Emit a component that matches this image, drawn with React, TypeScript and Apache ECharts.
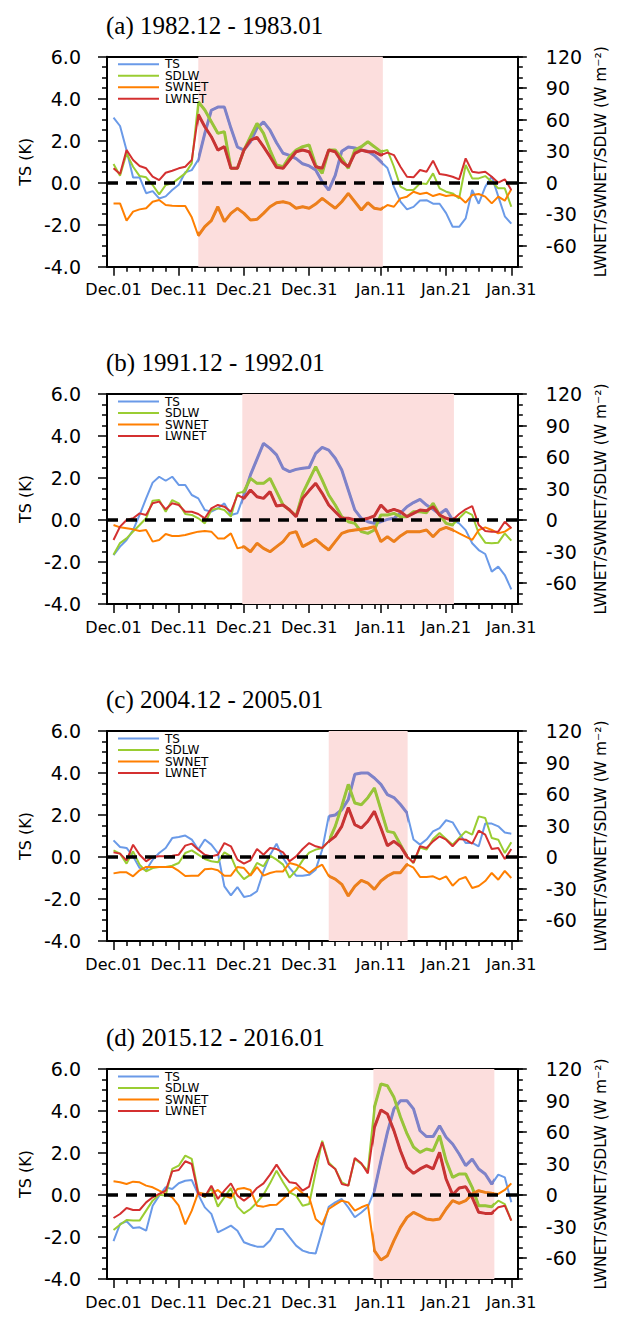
import React, { useEffect, useRef } from "react";
import * as echarts from "echarts";

const dayTicks = [0, 10, 20, 30, 41, 51, 61];
const dayLabels = ["Dec.01", "Dec.11", "Dec.21", "Dec.31", "Jan.11", "Jan.21", "Jan.31"];
const minorDays = [2, 4, 6, 8, 12, 14, 16, 18, 22, 24, 26, 28, 32, 34, 36, 38, 40, 42, 44, 46, 48, 50, 52, 54, 56, 58, 60];
const fluxTicks = [-60, -30, 0, 30, 60, 90, 120];
const seriesNames = ["TS", "SDLW", "SWNET", "LWNET"];
const seriesColors = ["#6a9ae8", "#9acd32", "#ff7f00", "#d43030"];
const shadedColors = ["#7f82c8", "#98c43a", "#ec7f1c", "#c83434"];
const panelTitles = ["(a) 1982.12 - 1983.01", "(b) 1991.12 - 1992.01", "(c) 2004.12 - 2005.01", "(d) 2015.12 - 2016.01"];
const shades = [[13, 41.3], [19.75, 52.2], [33, 45.1], [39.85, 58.4]];

// Panel (a)
const tsA = [3.1, 2.7, 1.55, 0.25, 0.25, -0.5, -0.4, -0.75, -0.65, -0.35, -0.1, 0.5, 0.6, 1.1, 2.35, 3.45, 3.6, 3.6, 2.6, 1.7, 1.55, 1.95, 2.6, 2.9, 2.5, 1.9, 1.4, 1.3, 1.15, 0.9, 0.8, 0.6, 0.05, -0.35, 0.35, 1.5, 1.7, 1.65, 1.55, 1.5, 1.3, 1.0, 0.7, -0.2, -0.9, -1.27, -1.15, -0.85, -0.83, -1.0, -1.0, -1.45, -2.1, -2.1, -1.7, -0.35, -1.0, -0.2, 0.3, -0.65, -1.6, -1.95];
const sdlwA = [17.8, 6.7, 27.9, 15.2, 6.3, 5.1, -2.2, -11.1, -2.2, -0.6, 4.1, 8.9, 18.4, 77.1, 69.2, 58.1, 47, 48.6, 13.7, 13.7, 31.1, 43.8, 56.5, 47, 31.1, 16.8, 15.2, 24.8, 31.1, 34.3, 35.9, 16.8, 8.9, 31.1, 31.1, 23.2, 13.7, 31.1, 34.3, 39, 34.3, 29.5, 31.1, 15.2, -3.8, -7, -7, -0.6, -1.3, 8.9, -5.4, -8.6, -10.2, -14.9, 16.8, 4.1, 4.1, 6.3, 1, -5.4, -5.4, -22.9];
const swnetA = [-19.7, -19.7, -36.2, -27.6, -25.4, -24.4, -18.1, -16.5, -21.3, -21.9, -22.2, -22.2, -33, -50.5, -41.9, -36.2, -22.9, -37.1, -29.2, -24.4, -29.2, -35.6, -34.9, -29.2, -22.9, -19, -18.1, -19.7, -24.4, -22.9, -24.4, -20.3, -14.9, -19.7, -24.4, -18.1, -10.2, -18.1, -26, -19, -24.4, -25.4, -21.3, -22.9, -14.9, -13.3, -8.6, -10.8, -9.5, -12.7, -10.8, -12.7, -11.7, -13.3, -19, -11.7, -10.8, -13.3, -19.7, -13.3, -17.1, -6.3];
const lwnetA = [13.7, 8.3, 31.1, 21.6, 15.9, 13.7, 5.7, 2.5, 9.5, 11.4, 13.7, 15.2, 21.6, 65, 53.3, 43.8, 31.1, 34.3, 13.7, 13.7, 31.1, 40.6, 43.2, 34.3, 24.8, 14.6, 13.7, 21.6, 29.5, 31.1, 29.5, 15.2, 13.7, 31.1, 29.5, 20, 15.2, 27.9, 31.1, 29.5, 29.5, 26.3, 28.6, 26.3, 15.2, 5.7, 5.1, 12.1, 10.5, 21, 8.3, 7.3, 5.7, 3.2, 23.2, 10.5, 9.5, 10.5, 5.7, 0, 3.2, -7];

// Panel (b)
const tsB = [-1.67, -1.27, -0.95, -0.48, 0.24, 1.03, 1.78, 2.06, 1.87, 2.06, 1.67, 1.67, 1.19, 1.03, 0.48, 0.4, 0.56, 0.79, 0.24, 0.32, 1.2, 2.15, 2.9, 3.65, 3.41, 3.1, 2.46, 2.3, 2.41, 2.46, 2.5, 3.17, 3.46, 3.33, 2.94, 2.38, 1.43, 0.48, 0.08, -0.08, -0.16, -0.08, 0.03, 0.08, 0.32, 0.63, 0.83, 0.98, 0.71, 0.51, 0.29, 0.51, 0, -0.16, -0.48, -1.11, -1.43, -1.62, -2.46, -2.22, -2.62, -3.3];
const sdlwB = [-33, -22, -17.5, -11, -4.8, 1.6, 18.4, 19, 7.9, 19, 15.9, 5.7, 4.8, 1.6, -3.2, 9.5, 11.1, 9.5, 3.2, 25.4, 27, 39.7, 34.9, 34.9, 39.7, 27, 14.3, 9.5, 3.8, 25.4, 38.1, 50.8, 38, 23.8, 14.3, 3.2, -1.6, -3.2, -11.1, -12.7, -9.5, 4.8, 4.8, 6.3, 3.2, 3.2, 7.9, 7.9, 7, 15.9, 4.8, -3.2, -4.8, 1.6, 7.9, 4.8, -12.7, -21.6, -22.2, -21.6, -12.7, -19.7];
const swnetB = [-4.8, -7, -7.9, -8.9, -10.5, -9.5, -20.6, -19, -13.3, -15.2, -15.2, -14.3, -12.7, -11.1, -10.5, -11.1, -17.5, -17.5, -12.7, -27, -25.4, -30.2, -22.2, -27, -30.2, -25.4, -20.6, -12.7, -11.1, -25.4, -22, -18.4, -23.8, -28.6, -20.6, -12.7, -10.5, -9.5, -8.9, -7.9, -6.3, -20.6, -15.9, -20.6, -15.2, -11.1, -11.1, -11.1, -9.5, -15.9, -9.5, -7, -9.5, -12.7, -15.9, -19, -9.5, -7, -9.5, -12.7, -11.1, -7];
const lwnetB = [-19, -6.3, 0, 1.6, 6.3, 4.8, 15.9, 17.5, 10.2, 15.9, 14.3, 7.9, 7.9, 5.7, 1.6, 11.1, 14.3, 12.7, 7.9, 23.8, 20.6, 28.6, 22.2, 20.6, 27, 13.3, 14.3, 9.5, 3.2, 20.6, 28, 34.9, 25.4, 14.3, 7.9, 1.6, 1.6, 0, 0, 1.6, 3.8, 14.3, 7.9, 10.2, 7.9, 3.2, 6.3, 9.5, 8.9, 12.7, 4.8, 1.6, 0, 5.7, 10.2, 13.3, -4.8, -10.5, -11.1, -11.1, -1.6, -7.9];

// Panel (c)
const tsC = [0.79, 0.48, 0.43, 0.03, -0.52, -0.63, -0.13, 0.19, 0.43, 0.9, 0.95, 1.02, 0.83, 0.35, 0.83, 0.59, 0.19, -1.4, -1.83, -1.43, -1.9, -1.84, -1.63, -0.68, 0.1, 0.63, -0.05, -0.52, -0.89, -0.89, -0.85, -0.6, 0.35, 1.94, 2.0, 2.25, 2.73, 3.94, 4.0, 4.0, 3.76, 3.46, 2.97, 2.83, 2.5, 2.1, 0.83, 0.59, 0.83, 1.22, 1.38, 1.75, 1.65, 1.14, 0.67, 0.67, 0.51, 1.59, 1.59, 1.46, 1.17, 1.11];
const sdlwC = [6.3, 3.2, -6.3, 5.4, -7.3, -13.7, -10.5, -9.5, -9.5, -8.3, -5.7, 3.8, 6.3, 2.2, -1.9, -4.1, -5.1, 4.4, 0.6, -13.7, -21, -16.8, -5.7, -8.9, 1.3, -2.5, -7.3, -19.7, -12.7, -3.2, 4.1, 7, 8.6, 14.9, 29.2, 48.3, 69.2, 51.4, 49.8, 56.5, 65.7, 45.1, 24.4, 23.2, 11.7, 0.6, -5.7, 8.9, 7, 17.1, 22.9, 17.1, 11.7, 18.1, 24.4, 21.3, 38.7, 37.1, 18.1, 16.5, 3.8, 14];
const swnetC = [-15.6, -14.6, -14.6, -18.4, -12.7, -9.5, -9.5, -9.5, -9.5, -9.5, -13.3, -18.1, -17.8, -17.8, -11.7, -11.1, -12.7, -17.8, -17.8, -9.5, -10.5, -17.8, -9.5, -17.8, -15.2, -13.7, -13.7, -5.7, -7.3, -10.5, -15.2, -10.5, -7.3, -18.1, -21, -26, -37.1, -27.9, -22.2, -24.8, -30.8, -22.9, -18.1, -14.9, -14.9, -7, -10.2, -19, -19, -18.4, -21.3, -18.4, -27.3, -21.3, -19, -29.5, -27.6, -22.9, -15.2, -21.6, -13.3, -20];
const lwnetC = [4.4, 3.2, -3.2, 11.7, 2.2, -4.1, 0, 0.6, 0.6, 1.3, 2.2, 10.8, 12.7, 7, 2.2, 0.6, 2.2, 13.3, 10.2, -2.5, -6.3, -3.2, 7.6, 2.2, 8.6, 7.6, 4.4, -4.1, 0.6, 7.6, 13.3, 10.2, 8.6, 14.9, 19.7, 29.2, 47, 30.8, 27.6, 34, 43.5, 27.6, 10.8, 14.9, 10.2, 0.6, -5.4, 10.2, 8.6, 14.9, 19.7, 16.5, 10.2, 17.1, 16.5, 12.7, 25.1, 21.3, 7.6, 8.6, -1.9, 7.6];

// Panel (d)
const tsD = [-2.2, -1.38, -1.25, -1.57, -1.54, -1.7, -0.51, -0.03, 0.37, 0.29, 0.56, 0.68, 0.71, 0.02, -0.59, -0.9, -1.78, -1.62, -1.46, -1.7, -2.25, -2.37, -2.46, -2.46, -2.17, -1.62, -1.62, -2.02, -2.41, -2.65, -2.75, -2.78, -1.7, -0.56, -0.35, -0.19, -0.59, -1.06, -0.83, -0.56, 0.21, 1.63, 2.98, 4.1, 4.49, 4.49, 4.1, 3.06, 2.78, 2.78, 3.3, 2.75, 2.43, 1.95, 1.4, 1.71, 1.24, 1.0, 0.52, 0.97, 0.84, -0.35];
const sdlwD = [-33.3, -28.3, -23.8, -24.4, -24.4, -14.9, -5.4, 0.3, -0.6, 24.8, 27.9, 37.5, 34.3, 2.5, -2.2, 6.7, -11.1, -2.2, 6.7, -11.1, -17.5, -13.3, -7, 0.3, 11.1, 23.2, 12.1, 2.5, -0.6, -10.2, -8.5, 21.6, 51.7, 31.1, 24.8, 12.1, 8.9, 34.3, 29.5, 23.2, 83.5, 105.7, 104.1, 93, 74.3, 58.4, 45.7, 40.6, 43.8, 42.2, 56.5, 32.7, 16.8, 20, 20, 7.3, -10.2, -10.2, -11.1, -5.4, -8.6, -24.4];
const swnetD = [13, 12.1, 10.5, 12.7, 12.1, 8.9, 7.3, 4.1, 1, -2.2, -10.2, -28, -14.9, 2.5, 1, 1, 4.8, -0.6, -2.9, 5.7, 6.7, 4.8, -10.2, -11.1, -9.5, -9.2, -3.8, 2.5, 7.3, 1.6, -2.2, -22.9, -28.3, -13.3, -9.2, -5.4, -7, -14.9, -11.7, -9.2, -53, -61.9, -57.8, -43.5, -30.8, -21.3, -16.5, -19.7, -22.9, -23.8, -22.9, -13.3, -5.4, -7.9, -5.4, 1, 4.1, 2.5, 1.6, 1, 4.8, 11.1];
const lwnetD = [-21.9, -18.1, -12.4, -14.3, -14.3, -7, -2.2, 1, 4.1, 22.5, 23.8, 32.1, 29.5, 1, -1.6, 8.9, -3.8, 4.1, 11.1, -0.6, -5.4, -0.6, 6.7, 11.1, 19.4, 28.9, 19.4, 12.1, 11.1, 4.1, 8, 32.7, 50.2, 29.5, 24.8, 10.5, 8.9, 35.2, 30.2, 20.6, 64.4, 81, 77.1, 61.3, 42.2, 26.3, 20.6, 24.8, 27.9, 24.8, 40.6, 15.2, 0.3, 6.7, 7.9, -2.2, -16.5, -17.5, -17.5, -11.7, -10.2, -24.4];

const panels = [
  [tsA, sdlwA, swnetA, lwnetA],
  [tsB, sdlwB, swnetB, lwnetB],
  [tsC, sdlwC, swnetC, lwnetC],
  [tsD, sdlwD, swnetD, lwnetD],
];

const SANS = "DejaVu Sans";
const GRID_LEFT = 107;
const GRID_W = 416;
const GRID_H = 210;
const gridTops = [56.7, 394, 731, 1069];

function buildOption() {
  const grid: any[] = [];
  const xAxis: any[] = [];
  const yAxis: any[] = [];
  const series: any[] = [];
  const title: any[] = [];
  const graphic: any[] = [];
  const visualMap: any[] = [];
  const axisLineStyle = { color: "#000", width: 2 };
  const tickStyle = { color: "#000", width: 1.5 };

  panels.forEach((vals, p) => {
    const top = gridTops[p];
    grid.push({ left: GRID_LEFT, top, width: GRID_W, height: GRID_H, containLabel: false });
    title.push({
      text: panelTitles[p],
      left: 106,
      top: top - 44,
      padding: 0,
      textStyle: { fontFamily: "Liberation Serif", fontSize: 25, fontWeight: "normal", color: "#000" },
    });
    xAxis.push({
      gridIndex: p, type: "value", min: -1, max: 62, position: "bottom",
      axisLine: { show: true, onZero: false, lineStyle: axisLineStyle },
      axisTick: { show: true, customValues: dayTicks, length: 9, lineStyle: tickStyle },
      axisLabel: {
        show: true, customValues: dayTicks, margin: 15,
        formatter: (v: number) => dayLabels[dayTicks.indexOf(Math.round(v))] ?? "",
        fontFamily: SANS, fontSize: 16, color: "#000",
      },
      splitLine: { show: false },
    });
    xAxis.push({
      gridIndex: p, type: "value", min: -1, max: 62, position: "bottom",
      axisLine: { show: false, onZero: false },
      axisTick: { show: true, customValues: minorDays, length: 5, lineStyle: tickStyle },
      axisLabel: { show: false },
      splitLine: { show: false },
    });
    xAxis.push({
      gridIndex: p, type: "value", min: -1, max: 62, position: "top",
      axisLine: { show: true, onZero: false, lineStyle: axisLineStyle },
      axisTick: { show: false }, axisLabel: { show: false }, splitLine: { show: false },
    });
    yAxis.push({
      gridIndex: p, type: "value", min: -4, max: 6, interval: 2, position: "left",
      axisLine: { show: true, onZero: false, lineStyle: axisLineStyle },
      axisTick: { show: true, length: 9, lineStyle: tickStyle },
      minorTick: { show: true, splitNumber: 4, length: 5, lineStyle: tickStyle },
      axisLabel: { formatter: (v: number) => v.toFixed(1), margin: 26, fontFamily: SANS, fontSize: 19, color: "#000" },
      splitLine: { show: false }, minorSplitLine: { show: false },
      name: "TS (K)", nameLocation: "middle", nameRotate: 90, nameGap: 70,
      nameTextStyle: { fontFamily: SANS, fontSize: 16, color: "#000" },
    });
    yAxis.push({
      gridIndex: p, type: "value", min: -80, max: 120, position: "right",
      axisLine: { show: true, onZero: false, lineStyle: axisLineStyle },
      axisTick: { show: true, customValues: fluxTicks, length: 9, lineStyle: tickStyle },
      axisLabel: { customValues: fluxTicks, margin: 28, fontFamily: SANS, fontSize: 19, color: "#000" },
      splitLine: { show: false },
      name: "LWNET/SWNET/SDLW (W m\u207B\u00B2)", nameLocation: "middle", nameRotate: 90, nameGap: 74,
      nameTextStyle: { fontFamily: SANS, fontSize: 15.5, color: "#000" },
    });
    yAxis.push({
      gridIndex: p, type: "value", min: -80, max: 120, interval: 10, position: "right",
      axisLine: { show: false, onZero: false },
      axisTick: { show: true, length: 5, lineStyle: tickStyle },
      axisLabel: { show: false }, splitLine: { show: false },
    });

    // shaded period (below the lines)
    series.push({
      name: "shade",
      type: "line",
      xAxisIndex: p * 3,
      yAxisIndex: p * 3,
      data: [[-5, 0]],
      symbol: "none",
      lineStyle: { width: 0 },
      z: 1,
      silent: true,
      markArea: {
        silent: true,
        z: 1,
        itemStyle: { color: "#fcdedd" },
        data: [[{ xAxis: shades[p][0] }, { xAxis: shades[p][1] }]],
      },
    });

    // base lines
    vals.forEach((arr, s) => {
      const serie: any = {
        name: seriesNames[s],
        type: "line",
        xAxisIndex: p * 3,
        yAxisIndex: s === 0 ? p * 3 : p * 3 + 1,
        data: arr.map((v, i) => [i, v]),
        symbol: "none",
        lineStyle: { color: seriesColors[s], width: 2 },
        itemStyle: { color: seriesColors[s] },
        z: 2,
        silent: true,
      };
      if (s === 0) {
        serie.markLine = {
          silent: true, symbol: "none", z: 6,
          label: { show: false },
          lineStyle: { color: "#000", width: 3.5, type: [11, 8] },
          data: [{ yAxis: 0 }],
        };
      }
      series.push(serie);
    });

    // thicker, darker lines inside the shaded period
    vals.forEach((arr, s) => {
      visualMap.push({
        type: "piecewise",
        show: false,
        dimension: 0,
        seriesIndex: series.length,
        pieces: [{ gte: shades[p][0], lte: shades[p][1], color: shadedColors[s] }],
        outOfRange: { color: "rgba(255,255,255,0)" },
      });
      series.push({
        name: seriesNames[s] + " (period)",
        type: "line",
        xAxisIndex: p * 3,
        yAxisIndex: s === 0 ? p * 3 : p * 3 + 1,
        data: arr.map((v, i) => [i, v]),
        symbol: "none",
        lineStyle: { width: 3 },
        z: 3 + s * 0.1,
        silent: true,
      });
    });

    // legend
    seriesNames.forEach((nm, s) => {
      const y = top + 7.5 + s * 11.5;
      graphic.push({
        type: "line", silent: true, z: 20,
        shape: { x1: 118, y1: y, x2: 159, y2: y },
        style: { stroke: seriesColors[s], lineWidth: 2 },
      });
      graphic.push({
        type: "text", silent: true, z: 20, x: 165, y,
        style: { text: nm, fontFamily: SANS, fontSize: 12, fill: "#000", verticalAlign: "middle", align: "left" },
      });
    });
  });

  return { animation: false, backgroundColor: "#fff", title, grid, xAxis, yAxis, series, visualMap, graphic };
}

export default function App() {
  const ref = useRef<HTMLDivElement>(null);
  useEffect(() => {
    if (!ref.current) return;
    const chart = echarts.init(ref.current, null, { renderer: "svg" });
    chart.setOption(buildOption() as any);
    return () => chart.dispose();
  }, []);
  return <div ref={ref} style={{ position: "absolute", left: 0, top: 0, width: 617, height: 1320 }} />;
}
